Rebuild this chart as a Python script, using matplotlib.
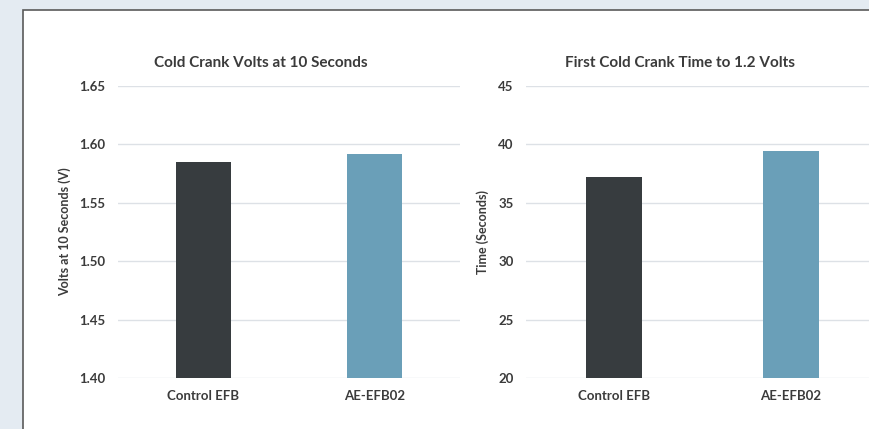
import numpy as np
import matplotlib.pyplot as plt
from matplotlib.patches import Rectangle

categories = ['Control EFB', 'AE-EFB02']
volts_10s = [1.585, 1.592]
time_to_1v2 = [37.2, 39.4]
bar_colors = ['#373c3f', '#6a9fb8']

W, H = 869, 429
plt.rcParams['font.family'] = ['Lato', 'DejaVu Sans']
TEXT = '#3b3b3b'
GRID = '#dde1e6'

fig = plt.figure(figsize=(W / 100, H / 100), dpi=100)
fig.patch.set_facecolor('#e4ebf2')

# white card with a thin dark border
card = Rectangle((23 / W, -0.01), 1.0, 1 - 9.5 / H + 0.01, transform=fig.transFigure,
                 facecolor='white', edgecolor='#5a5a5a', linewidth=1.2, zorder=-1)
fig.patches.append(card)


def px_axes(x0, x1, y_top, y_bot):
    return fig.add_axes([x0 / W, 1 - y_bot / H, (x1 - x0) / W, (y_bot - y_top) / H])


def bar_panel(ax, values, ylim, step, fmt):
    x = np.arange(len(categories))
    ax.bar(x, values, width=0.32, color=bar_colors, zorder=3)
    ax.set_xlim(-0.5, len(categories) - 0.5)
    ax.set_ylim(*ylim)
    ax.set_yticks(np.arange(ylim[0], ylim[1] + step / 2, step))
    ax.yaxis.set_major_formatter(plt.FuncFormatter(lambda v, p: fmt.format(v)))
    ax.set_xticks(x)
    ax.set_xticklabels(categories)
    ax.grid(axis='y', color=GRID, linewidth=1.0, zorder=0)
    ax.set_axisbelow(True)
    for s in ax.spines.values():
        s.set_visible(False)
    ax.tick_params(length=0, labelsize=9.5, colors=TEXT)
    ax.tick_params(axis='y', pad=9)
    ax.tick_params(axis='x', pad=9)
    for lbl in ax.get_xticklabels() + ax.get_yticklabels():
        lbl.set_fontweight('bold')
    ax.set_facecolor('none')


ax1 = px_axes(118, 460, 86, 378)
bar_panel(ax1, volts_10s, (1.40, 1.65), 0.05, '{:.2f}')
ax2 = px_axes(526, 879, 86, 378)
bar_panel(ax2, time_to_1v2, (20, 45), 5, '{:.0f}')

fig.text(261 / W, 1 - 63 / H, 'Cold Crank Volts at 10 Seconds', ha='center', va='center',
         fontsize=11, fontweight='bold', color=TEXT)
fig.text(680 / W, 1 - 63 / H, 'First Cold Crank Time to 1.2 Volts', ha='center', va='center',
         fontsize=11, fontweight='bold', color=TEXT)
fig.text(65 / W, 1 - 232 / H, 'Volts at 10 Seconds (V)', ha='center', va='center',
         rotation=90, fontsize=9, fontweight='bold', color=TEXT)
fig.text(483 / W, 1 - 232 / H, 'Time (Seconds)', ha='center', va='center',
         rotation=90, fontsize=9, fontweight='bold', color=TEXT)

fig.savefig('out.png', dpi=100)
